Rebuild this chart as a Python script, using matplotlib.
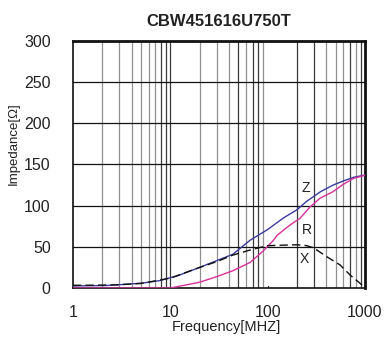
import matplotlib
matplotlib.use("Agg")
import matplotlib.pyplot as plt
import numpy as np

plt.rcParams['font.family'] = ['Liberation Sans', 'DejaVu Sans']

title = "CBW451616U750T"
xlabel = "Frequency[MHZ]"
ylabel = "Impedance[Ω]"

z_freq = [1, 2.2, 3, 5.2, 7.8, 10, 11.7, 20, 44, 66, 100, 145, 200, 250, 350, 470, 600, 760, 960, 1000]
z_val = [2.5, 3, 4, 6, 9, 12.5, 14.5, 25, 41, 58, 71, 85, 95, 105, 117, 125, 130, 134.4, 136.8, 137]

r_freq = [1, 5, 10, 20, 30, 44, 66, 90, 115, 125, 170, 215, 270, 345, 470, 600, 760, 1000]
r_val = [0, 0, 0, 7, 13.8, 21, 31, 45, 58, 64, 76.5, 84.6, 98, 109, 117, 126, 133, 137]

x_freq = [1, 2, 3, 5, 10, 20, 30, 44, 70, 100, 140, 200, 250, 295, 405, 555, 703, 891, 1000]
x_val = [3.3, 3.5, 4, 5.5, 12, 25, 32, 40, 47, 51.4, 52, 52.5, 51.5, 49, 38, 28, 15.8, 5.7, 0]

curve_labels = ["Z", "R", "X"]
label_freq = [248, 254, 237]
label_val = [121.5, 70.4, 35]

yticks = [0, 50, 100, 150, 200, 250, 300]
xticks = [1, 10, 100, 1000]
xticklabels = ["1", "10", "100", "1000"]

fig = plt.figure(figsize=(3.86, 3.45), dpi=100)
ax = fig.add_axes([0.189, 0.1652, 0.7565, 0.716])
ax.set_xscale('log')
ax.set_xlim(1, 1000)
ax.set_ylim(0, 300)

# vertical grid lines
gray = '#909090'
dark = '#3a3a3a'
minor_colors = {
    2: gray, 3: gray, 4: gray, 5: gray, 6: gray, 7: gray, 8: dark, 9: dark, 10: dark,
    20: gray, 30: gray, 40: gray, 50: dark, 60: gray, 70: dark, 80: dark, 90: gray,
    200: dark, 300: dark, 400: gray, 500: gray, 600: gray, 700: dark, 800: gray, 900: dark,
}
for f, c in minor_colors.items():
    ax.axvline(f, color=c, lw=0.9, zorder=1)
ax.plot([100, 100], [0, 3], color=dark, lw=0.9, zorder=1)
for y in yticks[1:-1]:
    ax.axhline(y, color='#111111', lw=0.9, zorder=1)

ax.plot(z_freq, z_val, color='#3a3aa0', lw=1.0, zorder=3)
ax.plot(r_freq, r_val, color='#d8309a', lw=1.0, zorder=3)
ax.plot(x_freq, x_val, color='#111111', lw=1.0, ls=(0, (6, 3)), zorder=4)

for lab, fx, fy in zip(curve_labels, label_freq, label_val):
    ax.text(fx, fy, lab, fontsize=10, color='#222222', ha='center', va='center')

ax.set_xticks(xticks)
ax.set_xticklabels(xticklabels)
ax.minorticks_off()
ax.set_yticks(yticks)
ax.tick_params(length=0, labelsize=11.5, colors='#222222')
ax.tick_params(axis='y', pad=16)
ax.tick_params(axis='x', pad=12)

for s in ax.spines.values():
    s.set_color('#111111')
    s.set_linewidth(1.2)
ax.spines['top'].set_linewidth(2.0)
ax.spines['right'].set_linewidth(2.0)

ax.set_title(title, fontsize=12, fontweight='bold', pad=11, color='#222222')
fig.text(226 / 386, 1 - 327 / 345, xlabel, fontsize=10.5, color='#222222',
         ha='center', va='center')
fig.text(14 / 386, 1 - 144 / 345, ylabel, fontsize=9.5, color='#222222',
         ha='center', va='center', rotation=90)

fig.savefig("out.png", dpi=100)
